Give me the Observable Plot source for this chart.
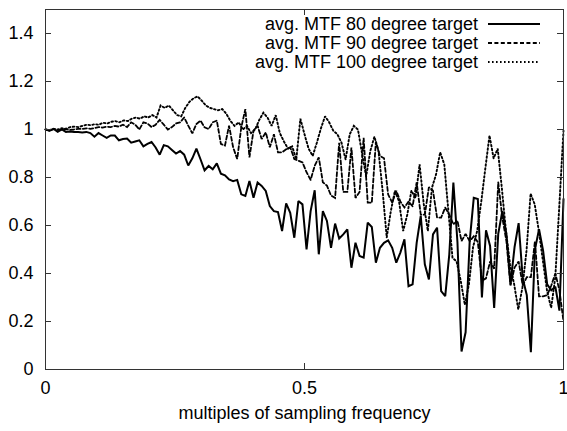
<!DOCTYPE html>
<html>
<head>
<meta charset="utf-8">
<script src="https://cdn.jsdelivr.net/npm/d3@7"></script>
<script src="https://cdn.jsdelivr.net/npm/@observablehq/plot@0.6"></script>
<style>
  html, body { margin: 0; padding: 0; background: #fff; }
  #chart svg { display: block; }
</style>
</head>
<body>
<div id="chart"></div>
<script>
// ---- data ----
const seriesNames = ["avg. MTF 80 degree target", "avg. MTF 90 degree target", "avg. MTF 100 degree target"];

const mtf80 = [1.0, 0.995, 1.002, 0.99, 1.0, 0.99, 0.992, 0.99, 0.99, 0.988, 0.99, 0.985, 0.97, 0.985, 0.975, 0.965, 0.975, 0.975, 0.955, 0.96,
  0.962, 0.945, 0.95, 0.955, 0.93, 0.94, 0.948, 0.925, 0.895, 0.935, 0.93, 0.915, 0.9, 0.91, 0.895, 0.85, 0.88,
  0.92, 0.876, 0.83, 0.848, 0.834, 0.859, 0.816, 0.809, 0.792, 0.785, 0.79, 0.73, 0.723, 0.785, 0.716, 0.779, 0.765, 0.744, 0.681, 0.66,
  0.656, 0.577, 0.692, 0.653, 0.549, 0.702, 0.688, 0.5, 0.66, 0.747, 0.48, 0.66, 0.619, 0.507, 0.608, 0.546, 0.563, 0.584, 0.424, 0.528,
  0.473, 0.466, 0.612, 0.594, 0.445, 0.507, 0.528, 0.538, 0.507, 0.445, 0.487, 0.542, 0.347, 0.355, 0.528, 0.64, 0.438, 0.375, 0.563, 0.591,
  0.327, 0.306, 0.48, 0.779, 0.53, 0.075, 0.155, 0.535, 0.715, 0.71, 0.3, 0.58, 0.515, 0.257, 0.565, 0.66, 0.565, 0.355, 0.51, 0.61,
  0.38, 0.31, 0.072, 0.5, 0.585, 0.495, 0.355, 0.33, 0.345, 0.245, 0.71];

const mtf90 = [1.0, 0.995, 1.003, 0.998, 1.0, 1.002, 0.998, 1.0, 1.003, 1.002, 1.005, 1.003, 1.006, 1.01, 1.008, 1.012, 1.01, 1.015, 1.012, 1.02,
  1.01, 1.03, 1.02, 1.0, 1.03, 1.025, 1.01, 1.02, 1.04, 1.02, 1.0, 1.01, 1.025,
  1.03, 1.05, 1.016, 0.984, 1.023, 1.037, 1.009, 1.002, 1.03, 1.037, 0.94, 0.933, 1.016, 0.926, 0.877, 1.009, 1.085, 0.884, 0.995, 1.016,
  0.96, 0.988, 0.926, 0.98, 0.905, 0.905, 0.918, 0.926, 0.877, 0.87, 0.863, 0.822, 0.79, 0.849, 0.884, 0.78, 0.766,
  0.725, 0.715, 0.945, 0.74, 0.74, 0.925, 0.715, 0.74, 0.965, 0.695, 0.695, 0.95, 0.89, 0.88, 0.73, 0.695, 0.745, 0.7, 0.675, 0.7,
  0.68, 0.78, 0.645, 0.645, 0.76, 0.745, 0.633, 0.633, 0.675, 0.645, 0.605, 0.62, 0.535, 0.565, 0.535, 0.555, 0.53, 0.37, 0.38, 0.45,
  0.42, 0.78, 0.633, 0.535, 0.35, 0.425, 0.45, 0.35, 0.385, 0.385, 0.535, 0.305, 0.305, 0.31, 0.35, 0.4, 0.33, 0.2];

const mtf100 = [1.0, 0.998, 1.002, 1.0, 1.005, 1.003, 1.01, 1.012, 1.01, 1.015, 1.02, 1.018, 1.022, 1.02, 1.028, 1.025, 1.032, 1.035, 1.03, 1.038,
  1.035, 1.045, 1.05, 1.045, 1.055, 1.05, 1.06, 1.05, 1.1, 1.09, 1.1, 1.08, 1.06, 1.055, 1.09, 1.115, 1.13,
  1.138, 1.12, 1.1, 1.09, 1.085, 1.08, 1.085, 1.065, 1.035, 1.015, 1.03, 1.0, 1.015, 0.985, 1.0, 1.04, 1.07, 1.05, 1.015, 1.06,
  0.985, 0.95, 0.92, 0.93, 0.875, 1.045, 0.98, 0.92, 0.89, 0.945, 1.005, 1.055, 1.03, 0.995, 0.98, 0.945, 0.875, 0.98, 1.015, 1.0,
  0.9, 0.805, 0.91, 0.97, 0.91, 0.745, 0.55, 0.66, 0.745, 0.7, 0.577, 0.645, 0.745, 0.715, 0.855, 0.69, 0.577, 0.757, 0.813, 0.905,
  0.855, 0.66, 0.465, 0.45, 0.37, 0.27, 0.355, 0.51, 0.577, 0.7, 0.84, 0.975, 0.88, 0.92, 0.757, 0.577, 0.438, 0.355, 0.25, 0.341,
  0.494, 0.733, 0.688, 0.577, 0.452, 0.327, 0.257, 0.383, 0.688, 0.995];

const xTicks = [0, 0.5, 1];
const yTicks = [0, 0.2, 0.4, 0.6, 0.8, 1, 1.2, 1.4];
const xLabel = "multiples of sampling frequency";

// ---- build tidy table ----
const styles = [
  {dash: null, width: 2},
  {dash: "4,2.4", width: 1.8},
  {dash: "1.6,2.4", width: 1.9}
];
const allSeries = [mtf80, mtf90, mtf100];
const table = allSeries.map((ys, k) =>
  ys.map((y, i) => ({x: i / (ys.length - 1), y, s: seriesNames[k]})));

const W = 567, H = 431;
const mL = 45, mR = 4, mT = 9, mB = 62;
const innerW = W - mL - mR, innerH = H - mT - mB;
const FONT = "'Liberation Sans', Arial, Helvetica, sans-serif";
const FS = 18;

const legendMark = (index, scales, values, dims) => {
  const right = dims.width - dims.marginRight;
  const g = d3.create("svg:g").attr("font-family", FONT).attr("font-size", FS);
  seriesNames.forEach((name, k) => {
    const yy = dims.marginTop + 15 + k * 19;
    g.append("text").attr("x", right - 85).attr("y", yy)
      .attr("text-anchor", "end").attr("dy", "0.35em").attr("fill", "#000").text(name);
    const ln = g.append("line").attr("x1", right - 75).attr("x2", right - 23)
      .attr("y1", yy).attr("y2", yy).attr("stroke", "#000")
      .attr("stroke-width", styles[k].width);
    if (styles[k].dash) ln.attr("stroke-dasharray", styles[k].dash);
  });
  return g.node();
};

const plot = Plot.plot({
  width: W, height: H,
  marginLeft: mL, marginRight: mR, marginTop: mT, marginBottom: mB,
  style: {fontFamily: FONT, fontSize: FS + "px", background: "#fff", color: "#000", overflow: "visible"},
  x: {domain: [0, 1]},
  y: {domain: [0, 1.5]},
  marks: [
    // lines
    ...table.map((rows, k) => Plot.line(rows, {
      x: "x", y: "y", stroke: "#000", strokeWidth: styles[k].width,
      strokeDasharray: styles[k].dash || undefined, strokeLinejoin: "miter", strokeMiterlimit: 2
    })),
    // inward ticks (left, right, bottom, top)
    Plot.tickY(yTicks, {y: d => d, insetRight: innerW - 6, stroke: "#333"}),
    Plot.tickY(yTicks, {y: d => d, insetLeft: innerW - 6, stroke: "#333"}),
    Plot.tickX(xTicks, {x: d => d, insetTop: innerH - 6, stroke: "#333"}),
    Plot.tickX(xTicks, {x: d => d, insetBottom: innerH - 6, stroke: "#333"}),
    Plot.axisY(yTicks, {anchor: "left", tickSize: 0, tickPadding: 12, tickFormat: d => String(d), label: null, fontSize: FS}),
    Plot.axisX(xTicks, {anchor: "bottom", tickSize: 0, tickPadding: 12, tickFormat: d => String(d), label: null, fontSize: FS}),
    Plot.text([xLabel], {frameAnchor: "bottom", dy: 44, text: d => d, fontSize: FS, lineAnchor: "middle"}),
    Plot.frame({stroke: "#333", strokeWidth: 1}),
    legendMark
  ]
});

document.getElementById("chart").appendChild(plot);
</script>
</body>
</html>
